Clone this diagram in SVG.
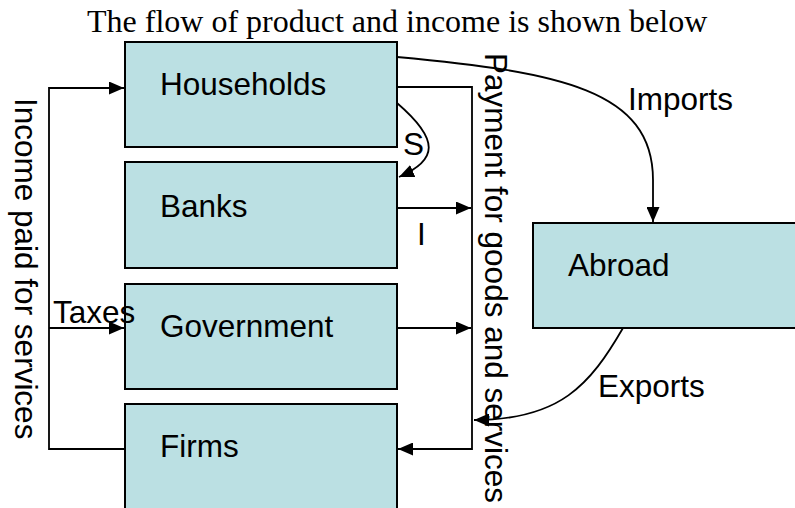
<svg xmlns="http://www.w3.org/2000/svg" width="795" height="508" viewBox="0 0 795 508">
  <style>
    .box { fill: #BBE0E3; stroke: #000; stroke-width: 2; }
    .lbl { font-family: "Liberation Sans", Arial, sans-serif; font-size: 31.5px; fill: #000; }
    .title { font-family: "Liberation Serif", "Times New Roman", serif; font-size: 32px; fill: #000; }
    .wire { fill: none; stroke: #000; stroke-width: 1.8; }
  </style>
  <defs>
    <marker id="arrow" viewBox="0 0 15 13" refX="15" refY="6.5" markerWidth="15" markerHeight="13" markerUnits="userSpaceOnUse" orient="auto">
      <path d="M0,0 L15,6.5 L0,13 Z" fill="#000"/>
    </marker>
  </defs>

  <rect width="795" height="508" fill="#fff"/>

  <text class="title" x="87" y="32">The flow of product and income is shown below</text>

  <g id="households">
    <rect class="box" x="125" y="42" width="272" height="105"/>
    <text class="lbl" x="160" y="95">Households</text>
  </g>
  <g id="banks">
    <rect class="box" x="125" y="162" width="272" height="106"/>
    <text class="lbl" x="160" y="217">Banks</text>
  </g>
  <g id="government">
    <rect class="box" x="125" y="284" width="272" height="105"/>
    <text class="lbl" x="160" y="337">Government</text>
  </g>
  <g id="firms">
    <rect class="box" x="125" y="404" width="272" height="110"/>
    <text class="lbl" x="160" y="457">Firms</text>
  </g>
  <g id="abroad">
    <rect class="box" x="533" y="223" width="270" height="105"/>
    <text class="lbl" x="568" y="276">Abroad</text>
  </g>

  <g id="connectors">
    <!-- income loop on the left: firms to households -->
    <path class="wire" d="M125,449 H49 V88 H124" marker-end="url(#arrow)"/>
    <path class="wire" d="M49,328 H124" marker-end="url(#arrow)"/>
    <!-- spending loop on the right: households to firms -->
    <path class="wire" d="M397,87 H472 V449 H398" marker-end="url(#arrow)"/>
    <path class="wire" d="M397,208 H471" marker-end="url(#arrow)"/>
    <path class="wire" d="M397,328 H471" marker-end="url(#arrow)"/>
    <!-- savings -->
    <path class="wire" d="M397,103 C440,140 438,160 399,177" marker-end="url(#arrow)"/>
    <!-- imports -->
    <path class="wire" d="M397,57 C560,72 653,90 653,180 L653,222" marker-end="url(#arrow)"/>
    <!-- exports -->
    <path class="wire" d="M623,328 C590,385 560,420 474,420" marker-end="url(#arrow)"/>

    <text class="lbl" x="403" y="155">S</text>
    <text class="lbl" x="417" y="245">I</text>
    <text class="lbl" x="628" y="110">Imports</text>
    <text class="lbl" x="598" y="397">Exports</text>
    <text class="lbl" x="53" y="323">Taxes</text>
    <text class="lbl" transform="translate(15,98) rotate(90)">Income paid for services</text>
    <text class="lbl" transform="translate(485,53) rotate(90)">Payment for goods and services</text>
  </g>
</svg>
